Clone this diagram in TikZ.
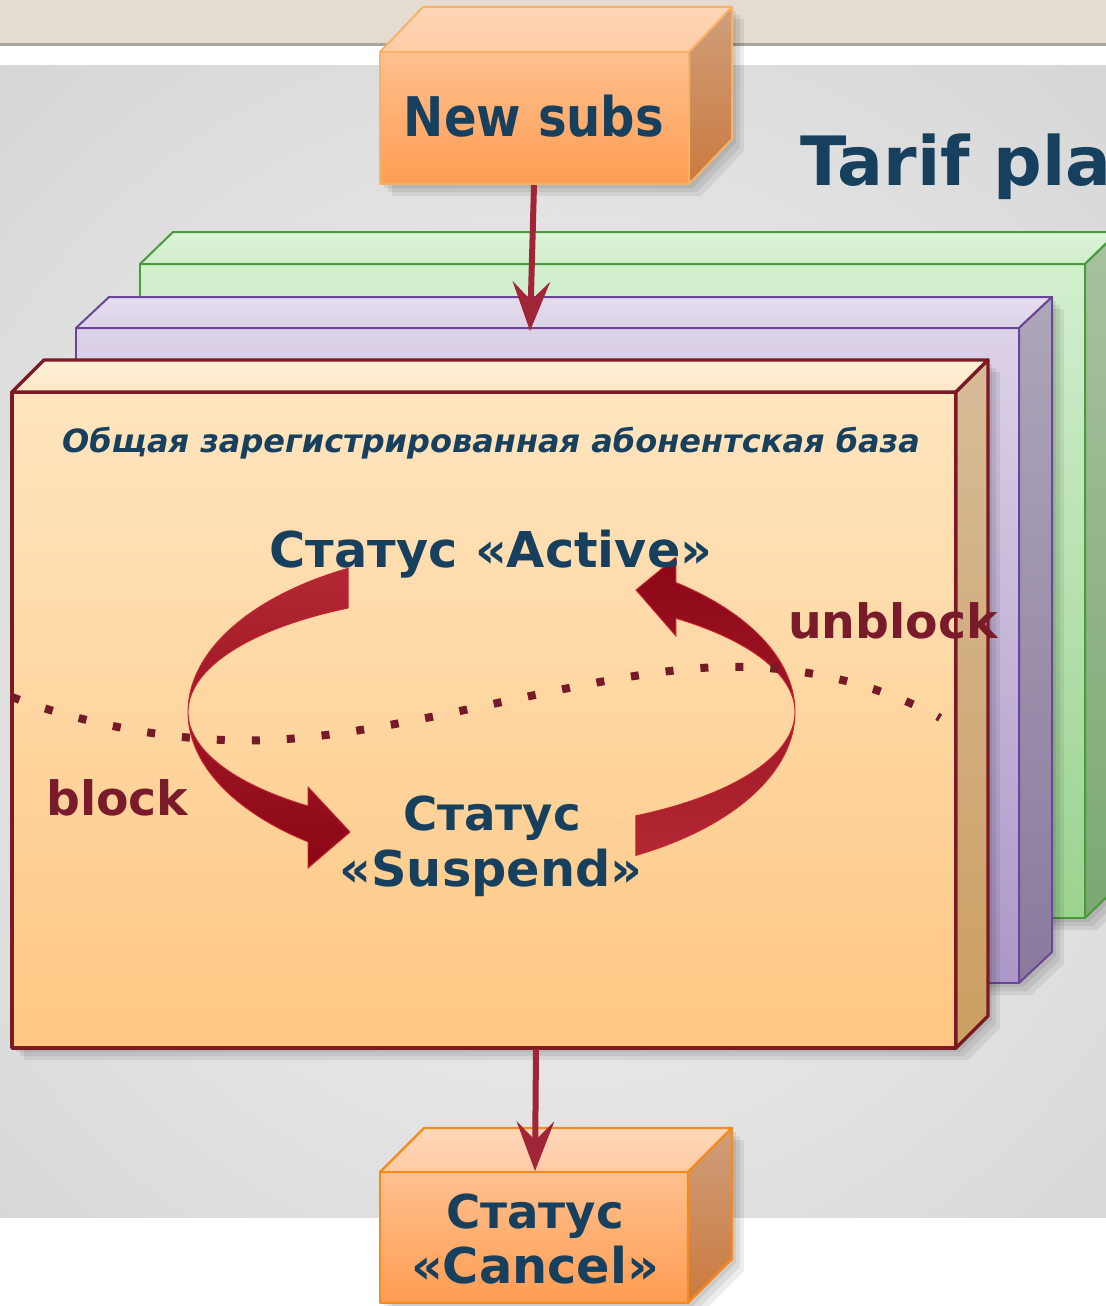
\documentclass[tikz,border=0pt]{standalone}
\usepackage{fontspec}
\setmainfont{DejaVu Sans}
\newfontfamily\cndfont[FakeStretch=0.88]{DejaVu Sans}
\usetikzlibrary{arrows.meta}
\definecolor{bandc}{HTML}{E4DCD1}
\definecolor{linec}{HTML}{A8A5A0}
\definecolor{bgin}{HTML}{E6E6E6}
\definecolor{bgout}{HTML}{C3C3C3}
\pgfdeclareradialshading{bgshade}{\pgfpoint{0bp}{0bp}}{color(0bp)=(bgin); color(10bp)=(bgin); color(38bp)=(bgout); color(50bp)=(bgout)}
% green
\definecolor{gL}{HTML}{4A9B3C}
\definecolor{gF1}{HTML}{D2EFCE}\definecolor{gF2}{HTML}{9BD391}
\definecolor{gT1}{HTML}{DDF4D9}\definecolor{gT2}{HTML}{CFEDCA}
\definecolor{gS1}{HTML}{A8C2A0}\definecolor{gS2}{HTML}{7CA874}
% purple
\definecolor{pL}{HTML}{6B4597}
\definecolor{pF1}{HTML}{DCD2E8}\definecolor{pF2}{HTML}{AC98C8}
\definecolor{pT1}{HTML}{E5DDEE}\definecolor{pT2}{HTML}{DCD2E8}
\definecolor{pS1}{HTML}{AEA6BA}\definecolor{pS2}{HTML}{8A7A9E}
% main orange
\definecolor{mL}{HTML}{7A1A24}
\definecolor{mF1}{HTML}{FFE5BF}\definecolor{mF2}{HTML}{FFC782}
\definecolor{mT1}{HTML}{FFEED6}\definecolor{mT2}{HTML}{FFE8C8}
\definecolor{mS1}{HTML}{D7BB97}\definecolor{mS2}{HTML}{CC9E62}
% small orange boxes
\definecolor{nL}{HTML}{F8B267}
\definecolor{cL}{HTML}{F68A1F}
\definecolor{nF1}{HTML}{FFC08F}\definecolor{nF2}{HTML}{FF9D52}
\definecolor{nT1}{HTML}{FFD7B8}\definecolor{nT2}{HTML}{FFCBA5}
\definecolor{nS1}{HTML}{CF9E7B}\definecolor{nS2}{HTML}{CB7A3E}
\definecolor{txtblue}{HTML}{173F5E}
\definecolor{txtred}{HTML}{7A1B2B}
\definecolor{arrc}{HTML}{A02536}
\definecolor{carL}{HTML}{B22834}
\definecolor{carD}{HTML}{8C0616}
\definecolor{carE}{HTML}{C8232F}
\definecolor{dotc}{HTML}{761A2A}
% #1 x1, #2 y1, #3 x2, #4 y2, #5 dx, #6 dy, #7 prefix, #8 line colour, #9 line width
\newcommand\cubebox[9]{%
  \foreach \s in {4,8,12}{%
    \fill[black,opacity=0.07] ({#1+\s},{#2+\s}) -- ({#1+#5+\s},{#2+#6+\s}) -- ({#3+#5+\s},{#2+#6+\s})
      -- ({#3+#5+\s},{#4+#6+\s}) -- ({#3+\s},{#4+\s}) -- ({#1+\s},{#4+\s}) -- cycle;}
  \path[draw=#8,line width=#9,line join=round,top color=#7F1,bottom color=#7F2] (#1,#2) rectangle (#3,#4);
  \path[draw=#8,line width=#9,line join=round,top color=#7T1,bottom color=#7T2]
    (#1,#2) -- ({#1+#5},{#2+#6}) -- ({#3+#5},{#2+#6}) -- (#3,#2) -- cycle;
  \path[draw=#8,line width=#9,line join=round,top color=#7S1,bottom color=#7S2]
    (#3,#2) -- ({#3+#5},{#2+#6}) -- ({#3+#5},{#4+#6}) -- (#3,#4) -- cycle;
}
\tikzset{
  bluetxt/.style={text=txtblue,font=\bfseries\fontsize{37pt}{44pt}\selectfont,inner sep=0pt,anchor=base},
  redtxt/.style={text=txtred,font=\bfseries\fontsize{35.5pt}{42pt}\selectfont,inner sep=0pt,anchor=base west},
  straightarr/.style={draw=arrc,line width=4.5pt,-{Stealth[length=37pt,width=28pt,inset=14pt]}},
}
\begin{document}
\begin{tikzpicture}[x=0.75pt,y=-0.75pt]
\useasboundingbox (0,0) rectangle (1106,1306);
% background
\fill[bandc] (0,0) rectangle (1106,45);
\fill[linec] (0,43.5) rectangle (1106,46);
\fill[white] (0,46) rectangle (1106,66);
\begin{scope}
  \clip (0,66) rectangle (1106,1218);
  \shade[shading=bgshade] (555,680) circle (920);
\end{scope}
\fill[white] (0,1218) rectangle (1106,1306);

% layered boxes
\cubebox{140}{264}{1085}{918}{33}{-32}{g}{gL}{1.5pt}
\cubebox{76}{328}{1019}{983}{33}{-31}{p}{pL}{1.5pt}
\cubebox{12}{392}{956}{1048}{32}{-32}{m}{mL}{2.6pt}

% new subs box
\cubebox{380}{52}{689}{184}{43}{-45}{n}{nL}{1.5pt}
\node[bluetxt,font=\cndfont\bfseries\fontsize{41pt}{48pt}\selectfont] (newsubs) at (534,137) {New subs};

% title (cut off at the right edge, as in the reference)
\node[bluetxt,anchor=base west,font=\bfseries\fontsize{51pt}{58pt}\selectfont] (title) at (800,185) {Tarif plan};

% arrow new subs -> base
\coordinate (nsb) at (534,185);
\coordinate (basetop) at (530,331);
\draw[straightarr] (nsb) -- (basetop);

% base caption
\node[bluetxt,font=\bfseries\itshape\fontsize{24pt}{30pt}\selectfont] (basecap) at (491,452) {Общая зарегистрированная абонентская база};

% curved arrows
\path[draw=carE,line width=0.7pt,top color=carL,bottom color=carD]
  plot[domain=241.8:127.2,samples=90] ({491.5+303.5*cos(\x)},{712+163*sin(\x)})
  -- (308,868) -- (350,832) -- (308,787)
  -- plot[domain=127.2:241.8,samples=90] ({491.5+303.5*cos(\x)},{712+118*sin(\x)}) -- cycle;
\path[draw=carE,line width=0.7pt,top color=carD,bottom color=carL]
  plot[domain=61.6:-52.6,samples=90] ({491.5+303.5*cos(\x)},{712+163*sin(\x)})
  -- (676,557) -- (636,590) -- (676,636)
  -- plot[domain=-52.6:61.6,samples=90] ({491.5+303.5*cos(\x)},{712+118*sin(\x)}) -- cycle;

% dotted border
\draw[dotc,line width=6pt,dash pattern=on 6pt off 20.25pt]
  plot[smooth,tension=0.7] coordinates {(12,697) (270,740) (720,667) (940,718)};

% statuses
\node[bluetxt] (active) at (491,567) {Статус «Active»};
\node[bluetxt,font=\bfseries\fontsize{35pt}{42pt}\selectfont] (susp1) at (492,830) {Статус};
\node[bluetxt] (susp2) at (491,886) {«Suspend»};
\node[redtxt] (unblock) at (788,638) {unblock};
\node[redtxt] (block) at (46,815) {block};

% cancel box
\cubebox{380}{1172}{688}{1303}{44}{-44}{n}{cL}{1.8pt}
\node[bluetxt,font=\bfseries\fontsize{35pt}{42pt}\selectfont] (canc1) at (535,1228) {Статус};
\node[bluetxt] (canc2) at (535,1283) {«Cancel»};
\coordinate (basebot) at (536,1049);
\coordinate (canctop) at (535,1171);
\draw[straightarr] (basebot) -- (canctop);
\end{tikzpicture}
\end{document}
